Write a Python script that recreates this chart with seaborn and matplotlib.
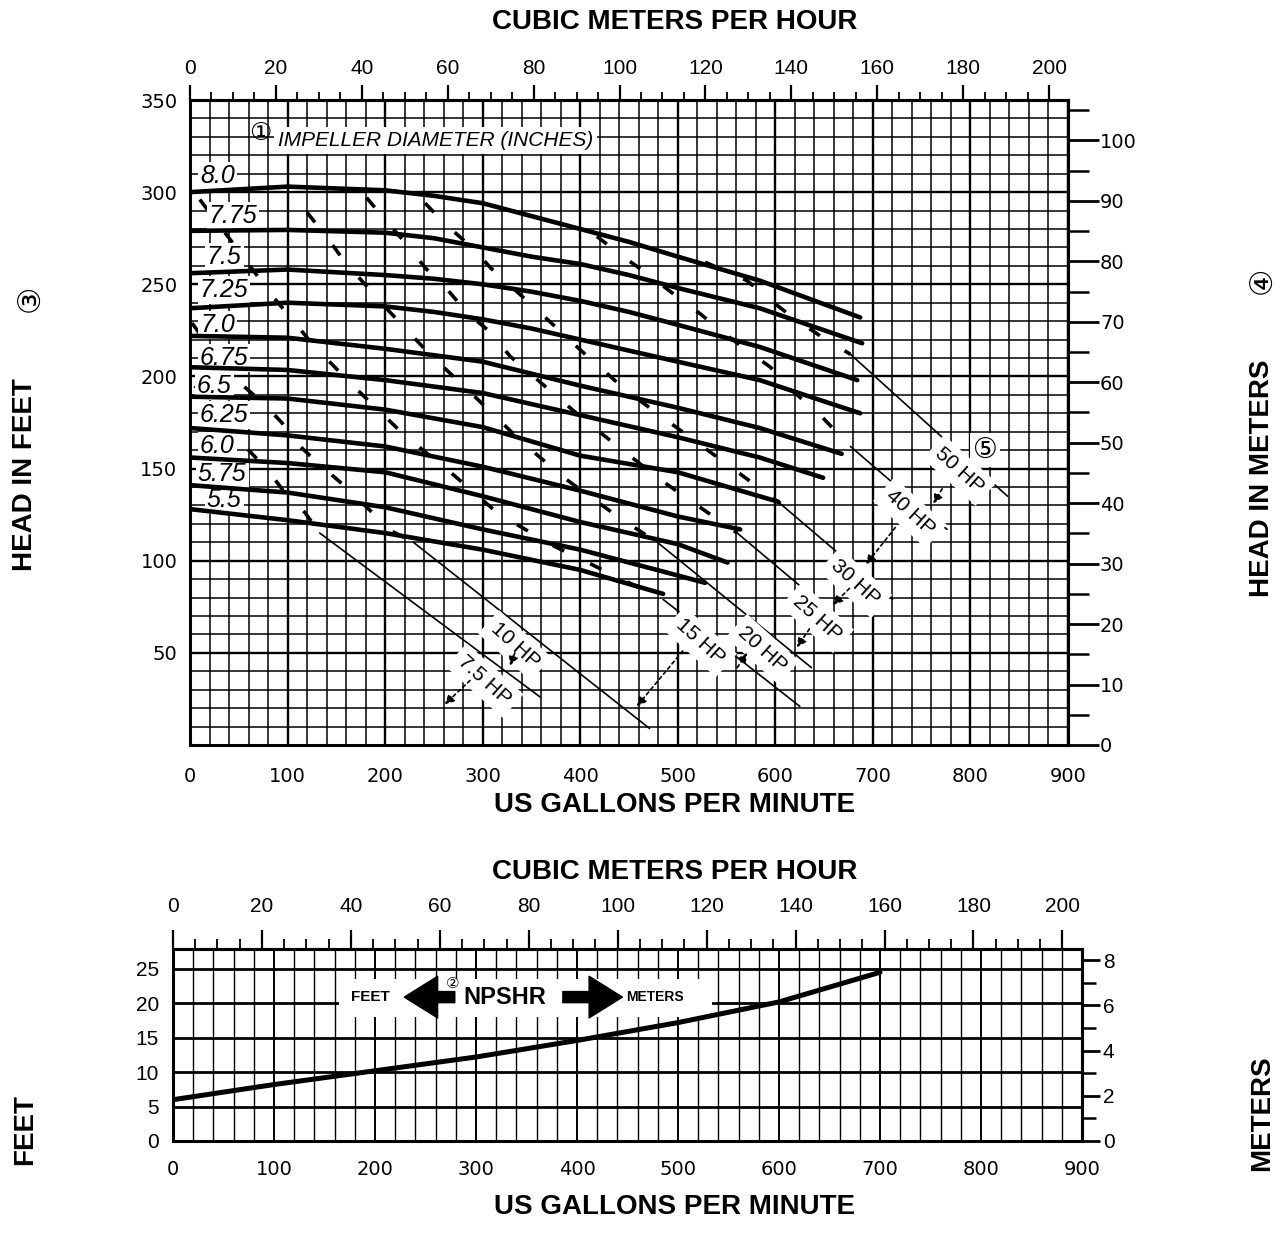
import matplotlib
matplotlib.use("Agg")
import numpy as np
import pandas as pd
import matplotlib.pyplot as plt
import seaborn as sns
from matplotlib.ticker import MultipleLocator, FixedLocator
from matplotlib.patches import Rectangle

GPM_PER_M3H = 4.4029
FT_PER_M = 3.2808

# ---------------- impeller head curves (US gpm, feet) ----------------
diameters = ["8.0", "7.75", "7.5", "7.25", "7.0", "6.75", "6.5", "6.25", "6.0", "5.75", "5.5"]
d800_gpm = [0, 100, 200, 250, 300, 350, 400, 450, 500, 584, 687]
d800_ft = [300, 303, 301, 298, 294, 287, 280, 273, 265, 252, 232]
d775_gpm = [0, 100, 200, 250, 300, 350, 400, 450, 500, 584, 689]
d775_ft = [279, 279.5, 278, 275, 270, 265, 261, 255, 248, 237, 218]
d750_gpm = [0, 100, 200, 250, 300, 350, 400, 450, 500, 584, 684]
d750_ft = [256, 258, 255, 253, 250, 246, 241, 235, 228, 216, 198]
d725_gpm = [0, 100, 200, 250, 300, 350, 400, 450, 500, 584, 687]
d725_ft = [237, 240, 238, 235, 231, 226, 220, 214, 208, 198, 180]
d700_gpm = [0, 100, 200, 300, 400, 500, 584, 668]
d700_ft = [222, 221, 215, 208, 195, 183, 172, 158]
d675_gpm = [0, 100, 200, 300, 400, 500, 584, 649]
d675_ft = [205, 203.5, 198, 191, 179, 167, 156, 145]
d650_gpm = [0, 100, 200, 300, 400, 500, 603]
d650_ft = [189, 188, 182, 172.5, 157, 148, 132]
d625_gpm = [0, 100, 200, 300, 400, 500, 564]
d625_ft = [172, 168, 162, 151, 138, 124, 117]
d600_gpm = [0, 100, 200, 300, 400, 500, 551]
d600_ft = [156, 153, 148, 135, 121, 109, 99]
d575_gpm = [0, 100, 200, 300, 400, 500, 528]
d575_ft = [141, 137, 129, 117, 106, 92, 88]
d550_gpm = [0, 100, 200, 300, 400, 485]
d550_ft = [128, 122, 115, 106, 95, 82]

# ---------------- horsepower lines ----------------
hp_names = ["7.5 HP", "10 HP", "15 HP", "20 HP", "25 HP", "30 HP", "40 HP", "50 HP"]
hp75_gpm = [5, 26, 51, 80, 97, 118, 133]
hp75_ft = [195, 182, 165, 149, 137, 126, 115]
hp10_gpm = [2, 39, 74, 94, 113, 131, 162, 187, 207, 229]
hp10_ft = [229, 202, 186, 175, 162, 153, 139, 126, 116, 110]
hp15_gpm = [10, 43, 84, 128, 169, 220, 267, 315, 369, 427, 485]
hp15_ft = [296, 273, 244, 216, 194, 168, 148, 126, 109, 94, 79]
hp20_gpm = [120, 141, 159, 181, 203, 244, 294, 341, 386, 441, 479]
hp20_ft = [289, 275, 262, 249, 236, 213, 188, 164, 144, 123, 110]
hp25_gpm = [181, 200, 220, 241, 264, 285, 308, 328, 405, 482, 561]
hp25_ft = [297, 285, 273, 259, 247, 234, 224, 211, 176, 144, 115]
hp30_gpm = [241, 261, 289, 308, 356, 403, 448, 502, 554, 605]
hp30_ft = [294, 283, 270, 259, 236, 213, 192, 171, 151, 131]
hp40_gpm = [417, 444, 468, 495, 523, 546, 574, 595, 618, 646, 677]
hp40_ft = [276, 265, 256, 245, 234, 224, 213, 205, 192, 179, 162]
hp50_gpm = [528, 571, 591, 618, 646, 677]
hp50_ft = [262, 252, 243, 232, 222, 212]
# lower (solid) end of each horsepower line
hp_end_gpm = [359, 471, 625, 637, 680, 720, 776, 838]
hp_end_ft = [26, 9, 21, 42, 62, 79, 117, 135]

# ---------------- NPSHR curve ----------------
npshr_gpm = [0, 100, 200, 300, 400, 500, 600, 700]
npshr_ft = [6.0, 8.2, 10.2, 12.2, 14.6, 17.2, 20.2, 24.5]

# ---------------- tick labels ----------------
gpm_ticks = [0, 100, 200, 300, 400, 500, 600, 700, 800, 900]
m3h_ticks = [0, 20, 40, 60, 80, 100, 120, 140, 160, 180, 200]
head_ft_ticks = [50, 100, 150, 200, 250, 300, 350]
head_m_ticks = [0, 10, 20, 30, 40, 50, 60, 70, 80, 90, 100]
npsh_ft_ticks = [0, 5, 10, 15, 20, 25]
npsh_m_ticks = [0, 2, 4, 6, 8]

# ---------------- annotation placement ----------------
dia_label_gpm = [28, 44, 35, 35, 28, 35, 25, 35, 28, 33, 35]
dia_label_ft = [309, 287, 265, 247, 228, 210, 195, 179, 162, 147, 133]
hp_label_gpm = [302, 333, 523, 587, 643, 682, 738, 789]
hp_label_ft = [35, 54, 56, 52, 69, 88, 126, 149]
arrow_tail_gpm = [771, 723, 676, 635, 561, 505, 287, 333]
arrow_tail_ft = [139, 118, 85, 63, 42, 51, 35, 50]
arrow_head_gpm = [762, 693, 659, 622, 571, 458, 261, 328]
arrow_head_ft = [131, 98, 76, 53, 50, 21, 22, 43]

# ============================================================
sns.set_theme(style="white")
plt.rcParams["font.family"] = ["Liberation Sans", "DejaVu Sans", "Noto Sans CJK JP"]
plt.rcParams["text.color"] = "black"
plt.rcParams["xtick.color"] = "black"
plt.rcParams["ytick.color"] = "black"
plt.rcParams["axes.edgecolor"] = "black"

W, H = 1284, 1250
fig = plt.figure(figsize=(W / 100, H / 100), dpi=100)
fig.patch.set_facecolor("white")


def frame(l, t, r, b):
    return [l / W, 1 - b / H, (r - l) / W, (b - t) / H]


ax1 = fig.add_axes(frame(190, 100, 1068, 745))
ax2 = fig.add_axes(frame(173, 949, 1082, 1141))

# ---------------- top chart ----------------
curve_tables = [
    pd.DataFrame({"dia": d, "gpm": g, "ft": f})
    for d, g, f in zip(
        diameters,
        [d800_gpm, d775_gpm, d750_gpm, d725_gpm, d700_gpm, d675_gpm, d650_gpm, d625_gpm, d600_gpm, d575_gpm, d550_gpm],
        [d800_ft, d775_ft, d750_ft, d725_ft, d700_ft, d675_ft, d650_ft, d625_ft, d600_ft, d575_ft, d550_ft],
    )
]
curves = pd.concat(curve_tables, ignore_index=True)

hp_gpm_lists = [hp75_gpm, hp10_gpm, hp15_gpm, hp20_gpm, hp25_gpm, hp30_gpm, hp40_gpm, hp50_gpm]
hp_ft_lists = [hp75_ft, hp10_ft, hp15_ft, hp20_ft, hp25_ft, hp30_ft, hp40_ft, hp50_ft]
hp_dashed = pd.concat(
    [pd.DataFrame({"hp": n, "gpm": g, "ft": f}) for n, g, f in zip(hp_names, hp_gpm_lists, hp_ft_lists)],
    ignore_index=True,
)
hp_solid = pd.concat(
    [
        pd.DataFrame({"hp": n, "gpm": [g[-1], eg], "ft": [f[-1], ef]})
        for n, g, f, eg, ef in zip(hp_names, hp_gpm_lists, hp_ft_lists, hp_end_gpm, hp_end_ft)
    ],
    ignore_index=True,
)

ax1.set_xlim(0, 900)
ax1.set_ylim(0, 350)
ax1.xaxis.set_major_locator(FixedLocator(gpm_ticks))
ax1.xaxis.set_minor_locator(MultipleLocator(20))
ax1.yaxis.set_major_locator(FixedLocator(head_ft_ticks))
ax1.yaxis.set_minor_locator(MultipleLocator(10))
ax1.grid(True, which="major", color="black", lw=1.7)
ax1.grid(True, which="minor", color="black", lw=1.1)
ax1.set_axisbelow(True)
ax1.tick_params(which="both", length=0)
ax1.tick_params(axis="x", labelsize=14, pad=16, labelfontfamily="DejaVu Sans")
ax1.tick_params(axis="y", labelsize=14, pad=9, labelfontfamily="DejaVu Sans")
for s in ax1.spines.values():
    s.set_linewidth(2.2)
    s.set_color("black")

sns.lineplot(data=hp_dashed, x="gpm", y="ft", units="hp", estimator=None, sort=False,
             color="black", linewidth=2.6, linestyle=(0, (3.5, 8)), ax=ax1, legend=False, zorder=2.5)
sns.lineplot(data=hp_solid, x="gpm", y="ft", units="hp", estimator=None, sort=False,
             color="black", linewidth=1.2, ax=ax1, legend=False, zorder=2.5)
sns.lineplot(data=curves, x="gpm", y="ft", units="dia", estimator=None, sort=False,
             color="black", linewidth=3.3, ax=ax1, legend=False, zorder=3)
ax1.set_xlabel("")
ax1.set_ylabel("")

for d, x, y in zip(diameters, dia_label_gpm, dia_label_ft):
    ax1.text(x, y, d, fontsize=18, style="italic", ha="center", va="center", zorder=2.8,
             bbox=dict(boxstyle="square,pad=0.08", fc="white", ec="none"))

ax1.text(90, 328, "IMPELLER DIAMETER (INCHES)", fontsize=15, style="italic", ha="left", va="center",
         zorder=2.8, bbox=dict(boxstyle="square,pad=0.2", fc="white", ec="none"))
ax1.text(72, 332, "\u2460", fontsize=18, ha="center", va="center", zorder=5,
         family=["DejaVu Sans", "Noto Sans CJK JP"])

for n, x, y in zip(hp_names, hp_label_gpm, hp_label_ft):
    ax1.text(x, y, n, fontsize=15, rotation=-42, rotation_mode="anchor", ha="center", va="center",
             zorder=2.8, bbox=dict(boxstyle="square,pad=0.3", fc="white", ec="none"))

for tx, ty, hx, hy in zip(arrow_tail_gpm, arrow_tail_ft, arrow_head_gpm, arrow_head_ft):
    ax1.annotate("", xy=(hx, hy), xytext=(tx, ty), zorder=5,
                 arrowprops=dict(arrowstyle="-|>", color="black", lw=1.2, ls=(0, (2, 2)),
                                 mutation_scale=14, shrinkA=0, shrinkB=0))

ax1.text(815, 160, "\u2464", fontsize=20, ha="center", va="center", zorder=5,
         family=["DejaVu Sans", "Noto Sans CJK JP"],
         bbox=dict(boxstyle="square,pad=0.1", fc="white", ec="none"))

sx1 = ax1.secondary_xaxis("top", functions=(lambda g: g / GPM_PER_M3H, lambda m: m * GPM_PER_M3H))
sx1.set_ticks(m3h_ticks)
sx1.xaxis.set_minor_locator(MultipleLocator(5))
sx1.tick_params(which="major", length=11, width=1.6, pad=5, labelsize=15, color="black")
sx1.tick_params(which="minor", length=6, width=1.3, color="black")
sx1.spines["top"].set_linewidth(2.2)

sy1 = ax1.secondary_yaxis("right", functions=(lambda f: f / FT_PER_M, lambda m: m * FT_PER_M))
sy1.set_ticks(head_m_ticks)
sy1.yaxis.set_minor_locator(MultipleLocator(5))
sy1.tick_params(which="major", length=22, width=2.0, pad=1, labelsize=14, color="black",
                labelfontfamily="DejaVu Sans")
sy1.tick_params(which="minor", length=15, width=1.8, color="black")
sy1.spines["right"].set_linewidth(2.2)

# ---------------- bottom chart ----------------
ax2.set_xlim(0, 900)
ax2.set_ylim(0, 8.5 * FT_PER_M)
ax2.xaxis.set_major_locator(FixedLocator(gpm_ticks))
ax2.xaxis.set_minor_locator(MultipleLocator(20))
ax2.yaxis.set_major_locator(FixedLocator(npsh_ft_ticks))
ax2.grid(True, axis="x", which="major", color="black", lw=1.4)
ax2.grid(True, axis="x", which="minor", color="black", lw=1.0)
ax2.grid(True, axis="y", which="major", color="black", lw=2.0)
ax2.set_axisbelow(True)
ax2.tick_params(which="both", length=0)
ax2.tick_params(axis="x", labelsize=14, pad=14, labelfontfamily="DejaVu Sans")
ax2.tick_params(axis="y", labelsize=15, pad=10)
for s in ax2.spines.values():
    s.set_linewidth(2.2)
    s.set_color("black")

ax2.add_patch(Rectangle((164, 18.0), 370, 5.5, fc="white", ec="none", zorder=1.5))
sns.lineplot(x=npshr_gpm, y=npshr_ft, color="black", linewidth=3.6, ax=ax2, zorder=3)
ax2.set_xlabel("")
ax2.set_ylabel("")

arrow_style = "simple,head_width=1.5,head_length=1.2,tail_width=0.4"
ax2.text(195, 20.9, "FEET", fontsize=11, weight="bold", ha="center", va="center", zorder=4)
ax2.annotate("", xy=(229, 20.9), xytext=(279, 20.9), zorder=4,
             arrowprops=dict(arrowstyle=arrow_style, fc="black", ec="black",
                             mutation_scale=20, shrinkA=0, shrinkB=0))
ax2.text(277, 22.9, "\u2461", fontsize=11, ha="center", va="center", zorder=4,
         family=["DejaVu Sans", "Noto Sans CJK JP"])
ax2.text(328, 20.9, "NPSHR", fontsize=17, weight="bold", ha="center", va="center", zorder=4)
ax2.annotate("", xy=(445, 20.9), xytext=(386, 20.9), zorder=4,
             arrowprops=dict(arrowstyle=arrow_style, fc="black", ec="black",
                             mutation_scale=20, shrinkA=0, shrinkB=0))
ax2.text(477, 20.9, "METERS", fontsize=10, weight="bold", ha="center", va="center", zorder=4)

sx2 = ax2.secondary_xaxis("top", functions=(lambda g: g / GPM_PER_M3H, lambda m: m * GPM_PER_M3H))
sx2.set_ticks(m3h_ticks)
sx2.xaxis.set_minor_locator(MultipleLocator(5))
sx2.tick_params(which="major", length=14, width=1.6, pad=10, labelsize=15, color="black")
sx2.tick_params(which="minor", length=7, width=1.3, color="black")
sx2.spines["top"].set_linewidth(2.2)

sy2 = ax2.secondary_yaxis("right", functions=(lambda f: f / FT_PER_M, lambda m: m * FT_PER_M))
sy2.set_ticks(npsh_m_ticks)
sy2.yaxis.set_minor_locator(MultipleLocator(1))
sy2.tick_params(which="major", length=13, width=2.0, pad=2, labelsize=15, color="black")
sy2.tick_params(which="minor", length=10, width=1.8, color="black")
sy2.spines["right"].set_linewidth(2.2)

# ---------------- figure titles ----------------
title_kw = dict(fontsize=20, weight="bold", ha="center", va="center")
fig.text(675 / W, 1 - 22 / H, "CUBIC METERS PER HOUR", **title_kw)
fig.text(675 / W, 1 - 805 / H, "US GALLONS PER MINUTE", **title_kw)
fig.text(675 / W, 1 - 872 / H, "CUBIC METERS PER HOUR", **title_kw)
fig.text(675 / W, 1 - 1207 / H, "US GALLONS PER MINUTE", **title_kw)
fig.text(25 / W, 1 - 475 / H, "HEAD IN FEET", rotation=90, **title_kw)
fig.text(1262 / W, 1 - 478 / H, "HEAD IN METERS", rotation=90, **title_kw)
fig.text(25 / W, 1 - 1130 / H, "FEET", rotation=90, **title_kw)
fig.text(1262 / W, 1 - 1113 / H, "METERS", rotation=90, **title_kw)
fig.text(30 / W, 1 - 298 / H, "\u2462", rotation=90, fontsize=22, ha="center", va="center",
         family=["DejaVu Sans", "Noto Sans CJK JP"])
fig.text(1262 / W, 1 - 280 / H, "\u2463", rotation=90, fontsize=22, ha="center", va="center",
         family=["DejaVu Sans", "Noto Sans CJK JP"])

fig.savefig("out.png", dpi=100, facecolor="white")
